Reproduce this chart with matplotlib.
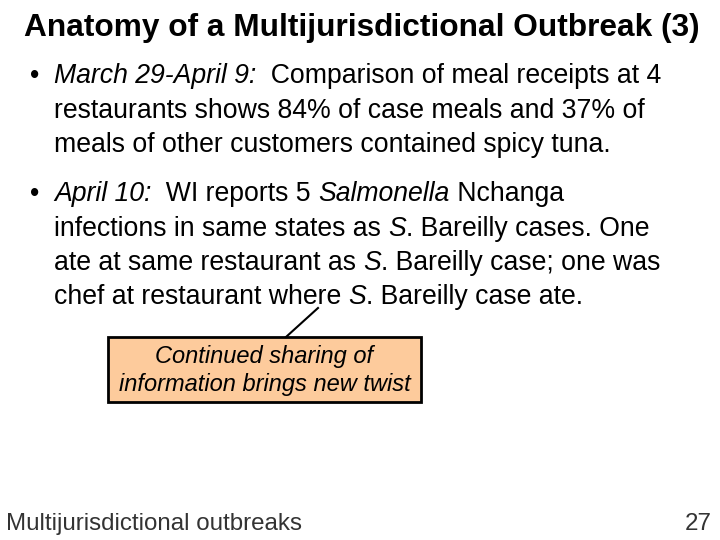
import matplotlib
matplotlib.use("Agg")
import matplotlib.pyplot as plt
from matplotlib.patches import Rectangle
from matplotlib.lines import Line2D

title = "Anatomy of a Multijurisdictional Outbreak (3)"
# each line: list of (text, italic)
bullet1 = [
    [("March 29-April 9:", True), ("  Comparison of meal receipts at 4", False)],
    [("restaurants shows 84% of case meals and 37% of", False)],
    [("meals of other customers contained spicy tuna.", False)],
]
bullet2 = [
    [("April 10:", True), ("  WI reports 5 ", False), ("Salmonella", True), (" Nchanga", False)],
    [("infections in same states as ", False), ("S", True), (". Bareilly cases. One", False)],
    [("ate at same restaurant as ", False), ("S", True), (". Bareilly case; one was", False)],
    [("chef at restaurant where ", False), ("S", True), (". Bareilly case ate.", False)],
]
callout = ["Continued sharing of", "information brings new twist"]
footer_left = "Multijurisdictional outbreaks"
footer_right = "27"

W, H = 720, 540
fig = plt.figure(figsize=(7.2, 5.4), dpi=100)
fig.patch.set_facecolor("white")
ax = fig.add_axes([0, 0, 1, 1])
ax.set_xlim(0, W); ax.set_ylim(H, 0); ax.axis("off")
FONT = "Liberation Sans"
fig.canvas.draw()
r = fig.canvas.get_renderer()

def seg_line(x, y, segs, size):
    for txt, it in segs:
        t = ax.text(x, y, txt, fontsize=size, family=FONT,
                    style="italic" if it else "normal", va="baseline", ha="left")
        bb = t.get_window_extent(renderer=r)
        x += bb.width

ax.text(24, 36, title, fontsize=22.8, family=FONT, weight="bold", va="baseline")

size = 19.2
def bullet(lines, y0):
    ax.text(30, y0, "•", fontsize=size, family=FONT, va="baseline")
    for i, segs in enumerate(lines):
        seg_line(54, y0 + i * 34.5, segs, size)

bullet(bullet1, 83)
bullet(bullet2, 201)

ax.add_patch(Rectangle((108, 337), 313, 65, facecolor="#FDCB9C", edgecolor="black", lw=2))
ax.add_line(Line2D([286, 318], [337, 308], color="black", lw=1.5))
ax.text(264.5, 356, callout[0], fontsize=17, family=FONT, style="italic", ha="center", va="center")
ax.text(264.5, 384, callout[1], fontsize=17, family=FONT, style="italic", ha="center", va="center")

ax.text(6, 530, footer_left, fontsize=17.4, family=FONT, color="#333333", va="baseline")
ax.text(712, 530, footer_right, fontsize=17.4, family=FONT, color="#333333", va="baseline", ha="right")

fig.savefig("out.png", dpi=100, facecolor="white")
